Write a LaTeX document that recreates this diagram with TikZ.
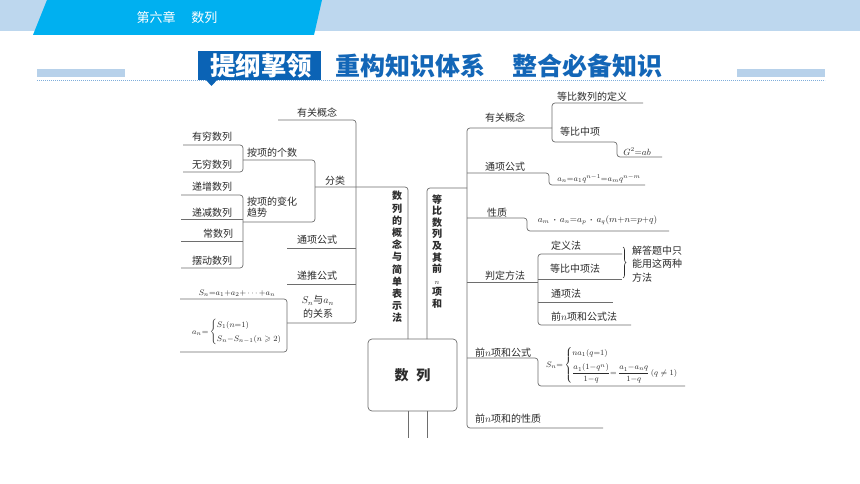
\documentclass[tikz,border=0pt]{standalone}
\usepackage{amsmath,amssymb}
\usepackage{fontspec}
\newfontfamily\cjk{Noto Sans CJK SC}
\usetikzlibrary{decorations.pathreplacing}
\definecolor{band}{HTML}{BDD7EE}
\definecolor{tab}{HTML}{00B0F0}
\definecolor{tdark}{HTML}{0B63B5}
\definecolor{ttext}{HTML}{1366B7}
\definecolor{bar}{HTML}{B7D1EA}
\definecolor{dots}{HTML}{7FAEDB}
\definecolor{txt}{HTML}{2B2B2B}
\definecolor{lin}{HTML}{6E6E6E}
\begin{document}
\begin{tikzpicture}[x=1pt,y=-1pt,
  lbl/.style={font=\cjk\fontsize{10}{12}\selectfont, text=txt, inner sep=0pt, anchor=base west},
  ln/.style={draw=lin, line width=0.7pt, rounded corners=3pt},
  fm/.style={font=\fontsize{8.5}{10}\selectfont, text=txt, inner sep=0pt},
  vt/.style={font=\cjk\bfseries\fontsize{10}{12.2}\selectfont, text=txt, inner sep=0pt, align=center}]
\useasboundingbox (0,0) rectangle (860,484);
\fill[white] (0,0) rectangle (860,484);
% header
\fill[band] (0,0) rectangle (860,31);
\fill[tab] (47,0) -- (322,0) -- (314,35) -- (33,35) -- cycle;
\node[text=white, font=\cjk\fontsize{13}{15}\selectfont, inner sep=0pt] (chap) at (177,18) {第六章\hspace{16pt}数列};
% title
\fill[bar] (37,69) rectangle (125,77);
\fill[bar] (737,69) rectangle (825,77);
\draw[dots, line width=0.9pt, dash pattern=on 0.8pt off 1.2pt] (37,80) -- (825,80);
\fill[tdark] (198,51) rectangle (321,80);
\fill[tdark] (205,79) -- (218,79) -- (211.5,86) -- cycle;
\node[text=white, font=\cjk\bfseries\fontsize{25.5}{27}\selectfont, inner sep=0pt] (tg) at (261,66) {提纲挈领};
\node[text=ttext, font=\cjk\bfseries\fontsize{25}{27}\selectfont, inner sep=0pt, anchor=west] (tt) at (335,66) {重构知识体系\hspace{27pt}整合必备知识};
% ---------- left tree ----------
\draw[ln] (278,120) -- (356,120) -- (356,323) -- (287,323);
\draw[ln] (315,187) -- (408,187) -- (408,339);
\draw[ln] (243,160) -- (315,160) -- (315,222) -- (243,222);
\draw[ln] (183,145) -- (243,145) -- (243,172) -- (183,172);
\draw[ln] (181,195) -- (243,195) -- (243,268) -- (181,268);
\draw[ln] (181,219) -- (243,219);
\draw[ln] (181,241) -- (243,241);
\draw[ln] (287,248) -- (356,248);
\draw[ln] (287,284) -- (356,284);
\draw[ln] (180,299) -- (287,299) -- (287,352) -- (180,352);
\node[lbl] (l1) at (297,117) {有关概念};
\node[lbl] (l2) at (192,141) {有穷数列};
\node[lbl] (l3) at (192,169) {无穷数列};
\node[lbl] (l4) at (247,157) {按项的个数};
\node[lbl] (l5) at (325,185) {分类};
\node[lbl] (l6a) at (247,205) {按项的变化};
\node[lbl] (l6b) at (247,216.5) {趋势};
\node[lbl] (l7) at (192,191) {递增数列};
\node[lbl] (l8) at (192,216) {递减数列};
\node[lbl] (l9) at (203,237) {常数列};
\node[lbl] (l10) at (192,264) {摆动数列};
\node[lbl] (l11) at (297,243) {通项公式};
\node[lbl] (l12) at (297,279) {递推公式};
\node[lbl, anchor=center] (l13a) at (318,300.5) {$S_n$与$a_n$};
\node[lbl, anchor=center] (l13b) at (318,313.5) {的关系};
\node[fm, font=\fontsize{8.5}{10}\selectfont] (f1) at (237,293) {$S_n{=}a_1{+}a_2{+}\cdots{+}a_n$};
\node[fm, font=\fontsize{8.5}{10}\selectfont, anchor=west] (f2) at (192,332) {$a_n{=}\begin{cases}S_1(n{=}1)\\[2pt] S_n{-}S_{n-1}(n\geqslant 2)\end{cases}$};
% ---------- center ----------
\node[vt] (lv) at (397,257) {数\\列\\的\\概\\念\\与\\简\\单\\表\\示\\法};
\node[vt, font=\cjk\bfseries\fontsize{10}{11.6}\selectfont] (rv) at (437,251.5) {等\\比\\数\\列\\及\\其\\前\\{\fontsize{7}{8}\selectfont$n$}\\项\\和};
\node[draw=lin, line width=0.7pt, rounded corners=4pt, minimum width=89pt, minimum height=72pt, inner sep=0pt,
      font=\cjk\bfseries\fontsize{14}{16}\selectfont, text=txt] (root) at (412.5,375) {数\hspace{8pt}列};
\draw[ln] (408,411) -- (408,438);
\draw[ln] (427,411) -- (427,438);
% ---------- right tree ----------
\draw[ln] (552,128) -- (467,128) -- (467,428) -- (603,428);
\draw[ln] (427,339) -- (427,188) -- (467,188);
\draw[ln] (643,103) -- (552,103) -- (552,142) -- (617,142) -- (617,157) -- (662,157);
\draw[ln] (467,173) -- (549,173) -- (549,185) -- (645,185);
\draw[ln] (467,218) -- (527,218) -- (527,231) -- (669,231);
\draw[ln] (467,282) -- (538,282);
\draw[ln] (622,254) -- (538,254) -- (538,325) -- (631,325);
\draw[ln] (538,279) -- (622,279);
\draw[ln] (538,302) -- (613,302);
\draw[ln] (467,358) -- (538,358) -- (538,386) -- (685,386);
\node[lbl] (r1) at (485,122) {有关概念};
\node[lbl] (r2) at (557,100.5) {等比数列的定义};
\node[lbl] (r3) at (560,136) {等比中项};
\node[fm, font=\fontsize{9}{10}\selectfont] (r4) at (637,151.5) {$G^2{=}ab$};
\node[lbl] (r5) at (485,170.5) {通项公式};
\node[fm, font=\fontsize{8.5}{10}\selectfont] (r6) at (599,179) {$a_n{=}a_1q^{n-1}{=}a_mq^{n-m}$};
\node[lbl] (r7) at (487,216) {性质};
\node[fm, font=\fontsize{9}{10}\selectfont] (r8) at (597.5,220.5) {$a_m\,\boldsymbol{\cdot}\,a_n{=}a_p\,\boldsymbol{\cdot}\,a_q(m{+}n{=}p{+}q)$};
\node[lbl] (r9) at (485,279) {判定方法};
\node[lbl] (r10) at (551,249) {定义法};
\node[lbl] (r11) at (550,272) {等比中项法};
\node[lbl] (r12) at (551,297) {通项法};
\node[lbl] (r13) at (551,320) {前$n$项和公式法};
\draw[draw=txt, line width=0.6pt, decorate, decoration={brace, amplitude=3pt}] (623,247) -- (623,278);
\node[lbl] (r14a) at (632,254) {解答题中只};
\node[lbl] (r14b) at (632,267.5) {能用这两种};
\node[lbl] (r14c) at (632,281) {方法};
\node[lbl] (r15) at (475,356) {前$n$项和公式};
\node[fm, font=\fontsize{8.5}{10}\selectfont, anchor=west] (r16) at (546,365) {$S_n{=}\begin{cases}na_1(q{=}1)\\[5pt] \dfrac{a_1(1{-}q^n)}{1{-}q}{=}\,\dfrac{a_1{-}a_nq}{1{-}q}\,(q\neq 1)\end{cases}$};
\node[lbl] (r17) at (475,422) {前$n$项和的性质};
\end{tikzpicture}
\end{document}
